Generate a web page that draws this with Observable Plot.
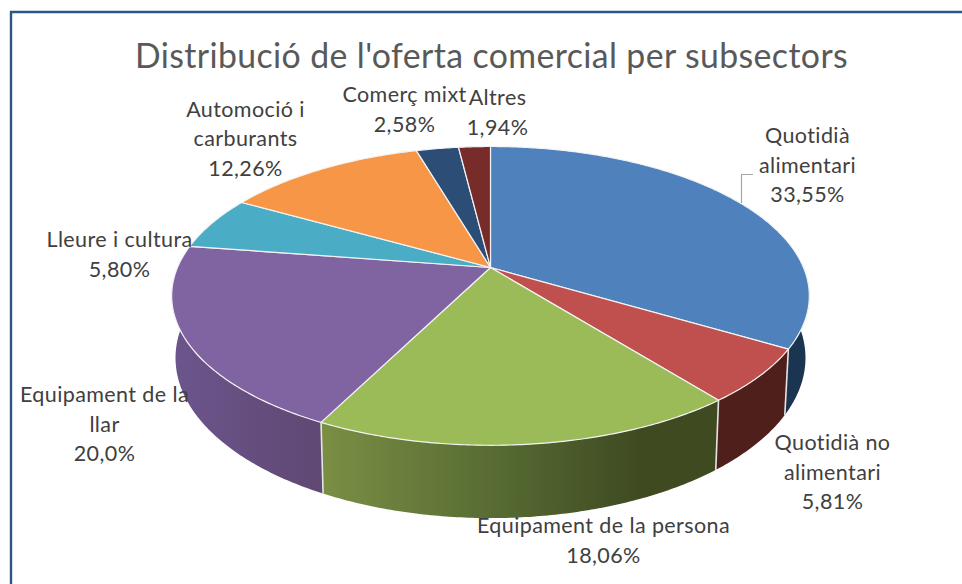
<!DOCTYPE html>
<html>
<head>
<meta charset="utf-8">
<style>html,body{margin:0;padding:0;background:#fff}svg{display:block}</style>
<script src="https://cdn.jsdelivr.net/npm/d3@7"></script>
<script src="https://cdn.jsdelivr.net/npm/@observablehq/plot@0.6"></script>
</head>
<body>
<div id="chart"></div>
<script>
const titleText = "Distribució de l'oferta comercial per subsectors";
const categories = ["Quotidià\nalimentari","Quotidià no\nalimentari","Equipament de la persona","Equipament de la\nllar","Lleure i cultura","Automoció i\ncarburants","Comerç mixt","Altres"];
const values = [33.55,5.81,18.06,20.0,5.80,12.26,2.58,1.94];
const valueLabels = ["33,55%","5,81%","18,06%","20,0%","5,80%","12,26%","2,58%","1,94%"];
const topColors = ["#4f81bd","#c0504d","#9bbb59","#8064a2","#4bacc6","#f79646","#2c4d75","#772c2a"];
const labelX = [807,832,603,104,119,245,404,497];
const labelY = [163,470,538,422,252,136.5,107,110];
const leaderX = [741,741,752];
const leaderY = [202,174,174];

// projection of the tilted disc
const cx = 490, ay = 267, R = 313, Ry = 144, p = 0.19;
const project = a => {
  const X = Math.sin(a), Y = -Math.cos(a), s = 1 / (1 - p * Y);
  return [cx + R * X * s, ay + Ry * Y * s];
};
const lower = ([x, y]) => [cx + (x - cx) * 0.988, ay + 60 + (y - ay) * 1.072];

const total = d3.sum(values);
const cum = d3.cumsum(values);
const slices = values.map((v, i) => ({
  i, a0: (i ? cum[i - 1] : 0) / total * 2 * Math.PI, a1: cum[i] / total * 2 * Math.PI
}));
const arc = (a0, a1) => {
  const n = Math.max(2, Math.ceil((a1 - a0) / 0.01));
  return d3.range(n + 1).map(k => project(a0 + (a1 - a0) * k / n));
};

const faces = slices.flatMap(s => {
  const pts = [[cx, ay], ...arc(s.a0, s.a1), [cx, ay]];
  return pts.map(([x, y]) => ({i: s.i, x, y}));
});
const wallFills = ["#1b3551","#4f1f1c","url(#wallGreen)","url(#wallPurple)"];
const walls = slices.flatMap(s => {
  const a0 = Math.max(s.a0, Math.PI / 2), a1 = Math.min(s.a1, 1.5 * Math.PI);
  if (a1 <= a0) return [];
  const t = arc(a0, a1), pts = [...t, ...t.map(lower).reverse()];
  return [pts.map(([x, y]) => ({i: s.i, x, y}))];
});
const edges = slices.map(s => s.a1).filter(a => a > Math.PI / 2 && a < 1.5 * Math.PI).map(a => {
  const t = project(a), b = lower(t);
  return {x1: t[0], y1: t[1], x2: b[0], y2: b[1]};
});

const gradient = (id, stops) => {
  const g = d3.create("svg:linearGradient").attr("id", id);
  stops.forEach(([o, c]) => g.append("stop").attr("offset", o).attr("stop-color", c));
  return g.node();
};
const defs = () => {
  const d = d3.create("svg:defs");
  d.append(() => gradient("wallGreen", [[0,"#7a8f43"],[0.45,"#566a33"],[0.8,"#3f4a21"],[1,"#3f4a21"]]));
  d.append(() => gradient("wallPurple", [[0,"#6c558c"],[1,"#5f4873"]]));
  return d.node();
};

const labels = categories.map((c, i) => ({text: c + "\n" + valueLabels[i], x: labelX[i], y: labelY[i]}));
const font = "Lato, Carlito, sans-serif";

const chart = Plot.plot({
  width: 962, height: 584, margin: 0,
  x: {axis: null, type: "linear", domain: [0, 962], range: [0, 962]},
  y: {axis: null, type: "linear", domain: [0, 584], range: [0, 584]},
  style: {background: "#fff", letterSpacing: "0.4px"},
  marks: [
    defs,
    Plot.ruleX([10.5], {y1: 11, y2: 584, stroke: "#2f5585", strokeWidth: 2.4}),
    Plot.ruleY([11.5], {x1: 10, x2: 962, stroke: "#2f5585", strokeWidth: 2.4}),
    ...walls.map(w => Plot.line(w, {x: "x", y: "y", fill: wallFills[w[0].i], stroke: "none", curve: "linear"})),
    Plot.link(edges, {x1: "x1", y1: "y1", x2: "x2", y2: "y2", stroke: "#e4e4e4", strokeWidth: 1.6}),
    ...slices.map(s => Plot.line(faces.filter(d => d.i === s.i), {x: "x", y: "y", fill: topColors[s.i], stroke: "#f3f3f3", strokeWidth: 1.2, strokeLinejoin: "round", curve: "linear"})),
    Plot.line(leaderX.map((x, i) => ({x, y: leaderY[i]})), {x: "x", y: "y", stroke: "#a6a6a6", strokeWidth: 1.2, curve: "linear"}),
    Plot.text(labels, {x: "x", y: "y", text: "text", fill: "#404040", fontSize: 21.5, lineHeight: 1.37, fontFamily: font}),
    Plot.text([titleText], {x: [491], y: [57], text: d => d, fill: "#595959", fontSize: 33.8, fontFamily: font})
  ]
});
document.getElementById("chart").append(chart);
</script>
</body>
</html>
